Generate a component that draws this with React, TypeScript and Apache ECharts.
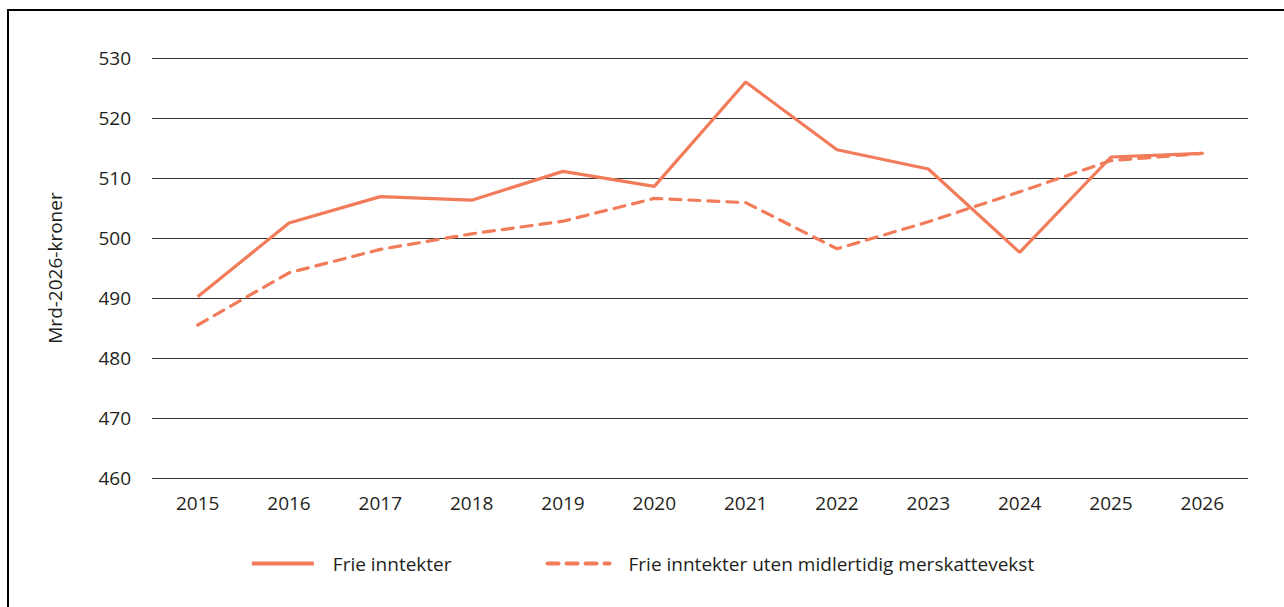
import React, { useEffect, useRef } from "react";
import * as echarts from "echarts";

const years = ["2015", "2016", "2017", "2018", "2019", "2020", "2021", "2022", "2023", "2024", "2025", "2026"];
const frieInntekter = [490.2, 502.5, 506.9, 506.3, 511.1, 508.6, 526.0, 514.7, 511.5, 497.6, 513.5, 514.1];
const utenMerskattevekst = [485.5, 494.2, 498.1, 500.7, 502.8, 506.6, 505.9, 498.2, 502.7, 507.7, 512.9, 514.1];
const seriesNames = ["Frie inntekter", "Frie inntekter uten midlertidig merskattevekst"];
const yAxisName = "Mrd-2026-kroner";

const LINE_COLOR = "#F27B5A";
const FONT = "'Open Sans', 'Noto Sans', sans-serif";
const TEXT = "#231f20";

export default function App() {
  const ref = useRef<HTMLDivElement>(null);

  useEffect(() => {
    if (!ref.current) return;
    const chart = echarts.init(ref.current, undefined, { renderer: "svg" });
    chart.setOption({
      animation: false,
      backgroundColor: "transparent",
      textStyle: { fontFamily: FONT },
      grid: { left: 152, right: 36, top: 58, bottom: 129, containLabel: false },
      legend: {
        bottom: 29,
        left: "center",
        itemWidth: 62,
        itemHeight: 12,
        itemGap: 94,
        itemStyle: { color: "transparent", borderWidth: 0, opacity: 0 },
        lineStyle: { width: 4 },
        textStyle: { fontSize: 19, color: TEXT, fontFamily: FONT, padding: [0, 0, 0, 14] },
        data: seriesNames,
      },
      xAxis: {
        type: "category",
        data: years,
        boundaryGap: true,
        axisLine: { show: false },
        axisTick: { show: false },
        axisLabel: { fontSize: 19, color: TEXT, margin: 15, fontFamily: FONT },
      },
      yAxis: {
        type: "value",
        min: 460,
        max: 530,
        interval: 10,
        name: yAxisName,
        nameLocation: "middle",
        nameGap: 88,
        nameRotate: 90,
        nameTextStyle: { fontSize: 19, color: TEXT, fontFamily: FONT },
        axisLine: { show: false },
        axisTick: { show: false },
        axisLabel: { fontSize: 19, color: TEXT, margin: 21, fontFamily: FONT },
        splitLine: { show: true, lineStyle: { color: "#333333", width: 1 } },
      },
      series: [
        {
          name: seriesNames[0],
          type: "line",
          data: frieInntekter,
          symbol: "none",
          lineStyle: { color: LINE_COLOR, width: 3.2 },
          itemStyle: { color: LINE_COLOR },
        },
        {
          name: seriesNames[1],
          type: "line",
          data: utenMerskattevekst,
          symbol: "none",
          lineStyle: { color: LINE_COLOR, width: 3.2, type: [11, 8], cap: "round" },
          itemStyle: { color: LINE_COLOR },
        },
      ],
    });
    return () => chart.dispose();
  }, []);

  return (
    <div
      style={{
        position: "fixed",
        left: 0,
        top: 0,
        width: 1284,
        height: 607,
        overflow: "hidden",
        background: "#fff",
      }}
    >
      <div
        style={{
          position: "absolute",
          left: 7,
          top: 9,
          width: 1400,
          height: 800,
          border: "2px solid #000",
          boxSizing: "border-box",
        }}
      />
      <div ref={ref} style={{ position: "absolute", left: 0, top: 0, width: 1284, height: 607 }} />
    </div>
  );
}
